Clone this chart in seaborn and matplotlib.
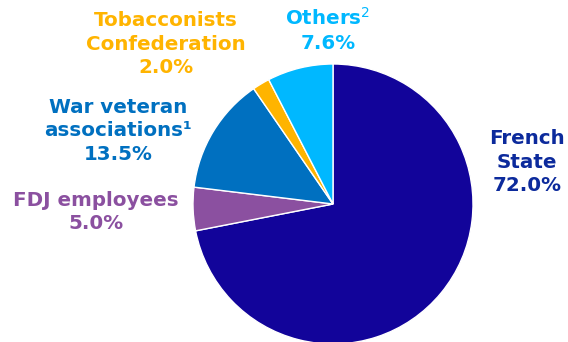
import matplotlib
matplotlib.use("Agg")
import matplotlib.pyplot as plt
import seaborn as sns

# ---- data ----
categories = ["French State", "FDJ employees", "War veteran associations",
              "Tobacconists Confederation", "Others"]
label_text = ["French\nState", "FDJ employees", "War veteran\nassociations\u00b9",
              "Tobacconists\nConfederation", "Others$^2$"]
values = [72.0, 5.0, 13.5, 2.0, 7.6]
wedge_colors = ["#12049A", "#8B50A0", "#0070C0", "#FFB400", "#00B8FF"]
text_colors = ["#0C2A9C", "#8B50A0", "#0070C0", "#FFB400", "#00B8FF"]

# ---- layout (pixels, from top-left) ----
W, H, DPI = 568, 342, 100
cx, cy, R = 333, 204, 140
label_pos = [(527, 162), (96, 212), (118, 131), (166, 44), (328, 30)]

sns.set_theme(style="white")
plt.rcParams['font.family'] = ['DejaVu Sans']

fig = plt.figure(figsize=(W / DPI, H / DPI), dpi=DPI)
ax = fig.add_axes([0, 0, 1, 1])

ax.pie(values, colors=sns.color_palette(wedge_colors), startangle=90,
       counterclock=False, radius=1, center=(0, 0),
       wedgeprops=dict(edgecolor="white", linewidth=1.0))
ax.set_xlim(-cx / R, (W - cx) / R)
ax.set_ylim(-(H - cy) / R, cy / R)
ax.set_axis_off()

def to_data(px, py):
    return ((px - cx) / R, (cy - py) / R)

for txt, v, col, (px, py) in zip(label_text, values, text_colors, label_pos):
    x, y = to_data(px, py)
    ax.text(x, y, f"{txt}\n{v:.1f}%", ha="center", va="center",
            color=col, fontsize=14.3, fontweight="bold", linespacing=1.32)

fig.savefig("out.png", dpi=DPI)
